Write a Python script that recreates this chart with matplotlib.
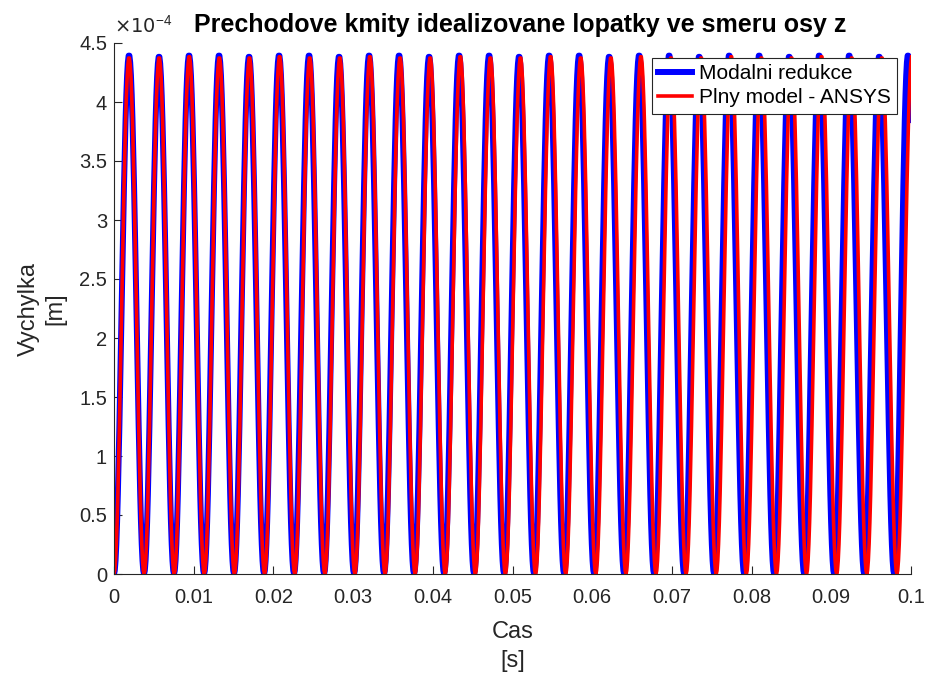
import numpy as np
import matplotlib
matplotlib.use("Agg")
import matplotlib.pyplot as plt
from matplotlib.ticker import FuncFormatter

plt.rcParams['font.family'] = ['Liberation Sans', 'DejaVu Sans']

# trough times [s] (start of each cycle)
modal_troughs = [0.0, 0.00377, 0.00753, 0.01130, 0.01506, 0.01883, 0.02259,
                 0.02636, 0.03012, 0.03389, 0.03765, 0.04142, 0.04518, 0.04895,
                 0.05271, 0.05648, 0.06024, 0.06401, 0.06777, 0.07154, 0.07530,
                 0.07907, 0.08283, 0.08660, 0.09036, 0.09413, 0.09789, 0.10135]
ansys_troughs = [0.0, 0.00378, 0.00756, 0.01133, 0.01511, 0.01889, 0.02267,
                 0.02645, 0.03022, 0.03400, 0.03778, 0.04156, 0.04534, 0.04911,
                 0.05289, 0.05667, 0.06045, 0.06423, 0.06800, 0.07178, 0.07556,
                 0.07934, 0.08312, 0.08689, 0.09067, 0.09445, 0.09823, 0.10201]
# peak deflection per cycle [m]
modal_peaks = [4.40e-4, 4.39e-4, 4.40e-4, 4.40e-4, 4.39e-4, 4.40e-4, 4.40e-4,
               4.39e-4, 4.40e-4, 4.40e-4, 4.39e-4, 4.40e-4, 4.40e-4, 4.39e-4,
               4.40e-4, 4.40e-4, 4.39e-4, 4.40e-4, 4.40e-4, 4.39e-4, 4.40e-4,
               4.40e-4, 4.39e-4, 4.40e-4, 4.40e-4, 4.39e-4, 4.40e-4]
ansys_peaks = [4.38e-4, 4.38e-4, 4.39e-4, 4.38e-4, 4.38e-4, 4.39e-4, 4.38e-4,
               4.38e-4, 4.39e-4, 4.38e-4, 4.38e-4, 4.39e-4, 4.38e-4, 4.38e-4,
               4.39e-4, 4.38e-4, 4.38e-4, 4.39e-4, 4.38e-4, 4.38e-4, 4.39e-4,
               4.38e-4, 4.38e-4, 4.39e-4, 4.38e-4, 4.38e-4, 4.39e-4]

x_ticks = [0, 0.01, 0.02, 0.03, 0.04, 0.05, 0.06, 0.07, 0.08, 0.09, 0.1]
y_ticks = [0, 0.5e-4, 1e-4, 1.5e-4, 2e-4, 2.5e-4, 3e-4, 3.5e-4, 4e-4, 4.5e-4]


def build_curve(troughs, peaks):
    # step response: each cycle rises from trough to peak and back
    ts, ys = [], []
    for i in range(len(peaks)):
        t = np.linspace(troughs[i], troughs[i + 1], 40)
        ph = (t - troughs[i]) / (troughs[i + 1] - troughs[i])
        ts.append(t)
        ys.append(peaks[i] / 2 * (1 - np.cos(2 * np.pi * ph)))
    return np.concatenate(ts), np.concatenate(ys)


fig = plt.figure(figsize=(9.3, 6.82), dpi=100)
ax = fig.add_axes([114 / 930, 1 - 574 / 682, 797 / 930, 531 / 682])

tb, yb = build_curve(modal_troughs, modal_peaks)
tr, yr = build_curve(ansys_troughs, ansys_peaks)
ax.plot(tb, yb, color=(0, 0, 1), lw=4.3, label='Modalni redukce')
ax.plot(tr, yr, color=(1, 0, 0), lw=2.6, label='Plny model - ANSYS')

ax.set_xlim(0, 0.1)
ax.set_ylim(0, 4.5e-4)
ax.set_xticks(x_ticks)
ax.set_yticks(y_ticks)
ax.xaxis.set_major_formatter(FuncFormatter(lambda v, p: '%g' % round(v, 4)))
ax.yaxis.set_major_formatter(FuncFormatter(lambda v, p: '%g' % round(v / 1e-4, 3)))

gray = '#262626'
for side in ['top', 'right']:
    ax.spines[side].set_visible(False)
for side in ['left', 'bottom']:
    ax.spines[side].set_color(gray)
    ax.spines[side].set_linewidth(0.8)
ax.tick_params(direction='in', length=5.5, width=0.8, colors=gray, labelsize=14.5)
ax.tick_params(axis='x', pad=10)
ax.tick_params(axis='y', pad=5)

ax.text(0.0, 1.012, r'$\times10^{\mathregular{-4}}$', transform=ax.transAxes, fontsize=14,
        color=gray, ha='left', va='bottom')
ax.set_title('Prechodove kmity idealizovane lopatky ve smeru osy z',
             fontsize=18, fontweight='bold', x=0.51, pad=8)
ax.set_xlabel('Cas\n[s]', fontsize=17, color=gray, labelpad=10, linespacing=1.45)
ax.set_ylabel('Vychylka\n[m]', fontsize=17, color=gray, labelpad=9, linespacing=1.3)

leg = ax.legend(loc='upper right', bbox_to_anchor=(0.982, 0.972), fontsize=15,
                fancybox=False, framealpha=1, edgecolor=gray,
                handlelength=1.65, borderpad=0.3, labelspacing=0.25,
                handletextpad=0.3, borderaxespad=0)
leg.get_frame().set_linewidth(0.8)

fig.savefig('out.png', dpi=100)
